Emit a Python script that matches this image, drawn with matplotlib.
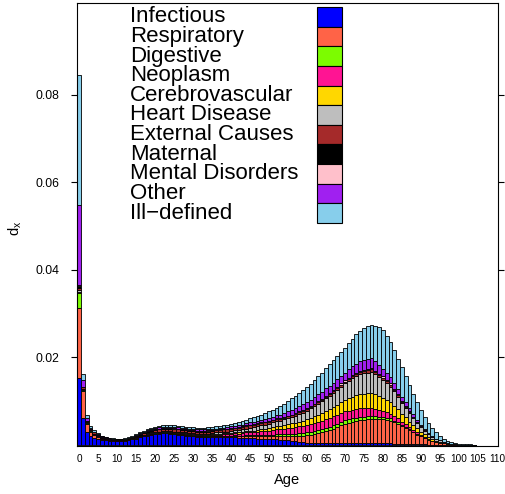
import numpy as np
import matplotlib
matplotlib.use("Agg")
import matplotlib.pyplot as plt
from matplotlib.patches import Rectangle

plt.rcParams['font.family'] = ['Liberation Sans', 'DejaVu Sans']
plt.rcParams['mathtext.default'] = 'regular'

# death distribution by age and cause, in units of 1e-4
ages = np.arange(0, 105)

infectious = [152, 60, 30, 20, 16, 13, 11, 10, 9, 9,
              8, 8, 9, 10, 12, 14, 17, 19, 21, 23,
              24, 25, 26, 26, 25, 24, 23, 22, 21, 20,
              19, 18, 18, 17, 17, 17, 17, 17, 17, 17,
              17, 17, 16, 16, 16, 15, 15, 14, 14, 13,
              13, 12, 12, 11, 11, 10, 9, 8, 7, 6,
              5, 4, 4, 3, 3, 3, 3, 3, 3, 3,
              3, 3, 3, 3, 3, 3, 3, 3, 3, 3,
              3, 3, 3, 2, 2, 2, 2, 2, 1, 1,
              1, 1, 0, 0, 0, 0, 0, 0, 0, 0,
              0, 0, 0, 0, 0]
respiratory = [160, 62, 18, 10, 6, 4, 3, 2, 2, 1,
               1, 1, 1, 1, 1, 1, 1, 1, 1, 1,
               1, 1, 1, 1, 1, 1, 1, 1, 1, 1,
               1, 1, 1, 1, 1, 2, 2, 2, 2, 2,
               2, 3, 3, 3, 4, 4, 4, 5, 5, 6,
               6, 7, 7, 8, 9, 10, 11, 12, 14, 15,
               17, 19, 21, 23, 25, 28, 31, 34, 37, 41,
               45, 47, 49, 51, 53, 54, 55, 55, 55, 55,
               55, 54, 52, 49, 45, 40, 36, 31, 27, 22,
               18, 14, 11, 8, 6, 4, 3, 2, 1, 1,
               0, 0, 0, 0, 0]
digestive = [34, 3, 1, 1, 1, 0, 0, 0, 0, 0,
             0, 0, 0, 0, 0, 0, 0, 1, 1, 1,
             1, 1, 1, 1, 1, 1, 1, 1, 1, 1,
             1, 1, 1, 1, 1, 1, 1, 1, 2, 2,
             2, 2, 2, 2, 3, 3, 3, 3, 4, 4,
             4, 4, 5, 5, 5, 5, 5, 5, 6, 6,
             6, 6, 7, 7, 7, 7, 7, 8, 8, 8,
             8, 8, 8, 8, 8, 7, 7, 7, 7, 6,
             6, 5, 5, 4, 4, 3, 3, 2, 2, 2,
             1, 1, 1, 0, 0, 0, 0, 0, 0, 0,
             0, 0, 0, 0, 0]
neoplasm = [2, 1, 1, 1, 1, 1, 1, 1, 1, 1,
            1, 1, 1, 1, 1, 1, 1, 1, 1, 1,
            1, 1, 1, 1, 1, 1, 2, 2, 2, 2,
            2, 2, 2, 2, 2, 3, 3, 3, 3, 3,
            4, 4, 4, 5, 5, 6, 6, 7, 8, 8,
            9, 10, 11, 11, 12, 13, 14, 15, 15, 16,
            17, 18, 18, 19, 20, 20, 20, 20, 20, 20,
            20, 20, 20, 19, 19, 19, 18, 18, 16, 15,
            13, 12, 11, 10, 9, 7, 6, 5, 4, 4,
            3, 2, 2, 1, 1, 1, 0, 0, 0, 0,
            0, 0, 0, 0, 0]
cerebro = [1, 0, 0, 0, 0, 0, 0, 0, 0, 0,
           0, 0, 0, 0, 0, 0, 0, 0, 0, 0,
           0, 0, 0, 0, 1, 1, 1, 1, 1, 1,
           1, 1, 1, 1, 1, 1, 2, 2, 2, 2,
           2, 2, 3, 3, 3, 4, 4, 5, 5, 6,
           6, 7, 7, 8, 8, 9, 10, 10, 11, 12,
           13, 14, 15, 17, 18, 20, 21, 22, 23, 25,
           26, 28, 30, 32, 33, 34, 35, 36, 34, 32,
           30, 28, 26, 24, 21, 18, 16, 13, 11, 9,
           7, 6, 4, 3, 2, 2, 1, 1, 0, 0,
           0, 0, 0, 0, 0]
heart = [5, 2, 1, 1, 1, 1, 1, 1, 0, 0,
         0, 0, 0, 1, 1, 1, 1, 1, 2, 2,
         2, 2, 2, 2, 2, 2, 2, 2, 2, 2,
         2, 2, 2, 3, 3, 3, 3, 3, 4, 4,
         4, 5, 5, 6, 6, 7, 8, 8, 9, 9,
         10, 11, 12, 12, 13, 14, 15, 16, 17, 18,
         20, 22, 23, 25, 26, 28, 30, 32, 34, 36,
         38, 40, 42, 44, 45, 46, 47, 48, 46, 44,
         42, 39, 36, 33, 29, 25, 22, 19, 15, 12,
         10, 8, 6, 5, 4, 3, 2, 1, 1, 0,
         0, 0, 0, 0, 0]
external = [4, 3, 3, 3, 3, 3, 2, 2, 2, 2,
            2, 2, 2, 2, 2, 3, 3, 4, 4, 4,
            4, 5, 5, 5, 5, 5, 5, 5, 5, 5,
            5, 5, 5, 5, 5, 5, 5, 5, 5, 5,
            5, 5, 5, 5, 5, 5, 5, 5, 5, 5,
            5, 5, 5, 4, 4, 4, 4, 4, 4, 4,
            4, 4, 4, 4, 4, 4, 4, 4, 4, 4,
            4, 4, 4, 4, 5, 5, 5, 5, 5, 4,
            4, 4, 4, 3, 3, 3, 2, 2, 2, 1,
            1, 1, 1, 0, 0, 0, 0, 0, 0, 0,
            0, 0, 0, 0, 0]
maternal = [6, 2, 1, 0, 0, 0, 0, 0, 0, 0,
            0, 0, 0, 0, 0, 1, 1, 1, 2, 2,
            2, 2, 2, 2, 2, 2, 2, 2, 2, 2,
            2, 2, 2, 2, 2, 1, 1, 1, 1, 1,
            1, 1, 1, 1, 1, 1, 1, 1, 0, 0,
            0, 0, 0, 0, 0, 0, 0, 0, 0, 0,
            0, 0, 0, 0, 0, 0, 0, 0, 0, 0,
            0, 0, 0, 0, 0, 0, 0, 0, 0, 0,
            0, 0, 0, 0, 0, 0, 0, 0, 0, 0,
            0, 0, 0, 0, 0, 0, 0, 0, 0, 0,
            0, 0, 0, 0, 0]
mental = [2, 0, 0, 0, 0, 0, 0, 0, 0, 0,
          0, 0, 0, 0, 0, 0, 0, 0, 0, 0,
          0, 0, 0, 0, 0, 1, 0, 0, 0, 0,
          1, 0, 0, 0, 1, 0, 0, 1, 0, 1,
          1, 0, 1, 1, 1, 1, 1, 1, 1, 1,
          1, 1, 1, 1, 1, 1, 1, 2, 2, 2,
          2, 2, 2, 2, 2, 2, 2, 2, 3, 3,
          3, 3, 3, 3, 3, 3, 3, 3, 3, 3,
          3, 3, 3, 2, 2, 2, 2, 2, 1, 1,
          1, 1, 0, 0, 0, 0, 0, 0, 0, 0,
          0, 0, 0, 0, 0]
other = [182, 14, 6, 3, 2, 2, 1, 1, 1, 1,
         1, 1, 1, 1, 1, 1, 2, 2, 2, 2,
         3, 3, 3, 3, 3, 3, 3, 3, 3, 3,
         3, 3, 3, 3, 3, 3, 3, 3, 3, 3,
         4, 4, 4, 4, 5, 5, 5, 6, 6, 7,
         7, 7, 8, 9, 9, 10, 11, 11, 12, 13,
         14, 14, 15, 16, 16, 17, 17, 17, 18, 18,
         18, 19, 20, 21, 22, 22, 23, 23, 22, 20,
         18, 16, 15, 14, 12, 10, 9, 8, 7, 5,
         4, 3, 2, 2, 1, 1, 1, 0, 0, 0,
         0, 0, 0, 0, 0]
ill_defined = [297, 15, 7, 4, 3, 2, 2, 1, 1, 1,
               1, 1, 1, 1, 2, 2, 2, 2, 2, 3,
               3, 3, 3, 3, 3, 3, 3, 3, 3, 3,
               3, 4, 4, 4, 4, 5, 5, 5, 6, 6,
               6, 7, 8, 8, 8, 9, 11, 11, 12, 13,
               15, 16, 16, 20, 22, 24, 26, 29, 30, 32,
               33, 36, 38, 40, 44, 46, 49, 51, 52, 54,
               57, 60, 63, 67, 69, 73, 75, 76, 81, 87,
               88, 85, 79, 75, 70, 67, 59, 52, 46, 40,
               34, 27, 23, 19, 14, 9, 7, 5, 4, 3,
               2, 1, 1, 0.5, 0.3]

causes = ["Infectious", "Respiratory", "Digestive", "Neoplasm", "Cerebrovascular",
          "Heart Disease", "External Causes", "Maternal", "Mental Disorders",
          "Other", "Ill\u2212defined"]
colors = ["#0000FF", "#FF6347", "#7CFC00", "#FF1493", "#FFD700", "#BEBEBE",
          "#A52A2A", "#000000", "#FFC0CB", "#A020F0", "#87CEEB"]
series = [infectious, respiratory, digestive, neoplasm, cerebro, heart,
          external, maternal, mental, other, ill_defined]

W, H = 505, 494
fig = plt.figure(figsize=(W / 100, H / 100), dpi=100)
L, R, T, B = 77, 498, 3, 446
ax = fig.add_axes([L / W, 1 - B / H, (R - L) / W, (B - T) / H])

bottom = np.zeros(len(ages))
for vals, col in zip(series, colors):
    v = np.array(vals, dtype=float) / 1e4
    ax.bar(ages, v, bottom=bottom, width=1.0, color=col,
           edgecolor="black", linewidth=0.6)
    bottom += v

ax.set_xlim(-0.55, 110.3)
ax.set_ylim(-0.0003, 0.1010)

ax.set_xticks(np.arange(0, 111, 5))
ax.set_xticklabels([str(a) for a in range(0, 111, 5)], fontsize=7.2)
ax.tick_params(axis="x", length=0, pad=6)
ax.set_yticks([0.02, 0.04, 0.06, 0.08])
ax.set_yticklabels(["0.02", "0.04", "0.06", "0.08"], fontsize=8.8)
ax.tick_params(axis="y", length=4, width=0.8, direction="out",
               right=True, pad=9)
for s in ax.spines.values():
    s.set_linewidth(0.8)

ax.set_xlabel("Age", fontsize=10.5, labelpad=6)
fig.text(15 / W, 1 - 228 / H, r"$d_x$", rotation=90, fontsize=10.5,
         ha="center", va="center")


# legend drawn by hand: text left, colour boxes at right
def px(x, y):
    return ((x - L) / (R - L), (B - y) / (B - T))


row_h = 19.6
y0 = 17
for i, (name, col) in enumerate(zip(causes, colors)):
    yc = y0 + i * row_h
    tx, ty = px(130, yc)
    ax.text(tx, ty, name, transform=ax.transAxes, fontsize=16,
            va="center", ha="left")
    bx, by = px(316.5, yc + row_h / 2)
    bw = 25 / (R - L)
    bh = row_h / (B - T)
    ax.add_patch(Rectangle((bx, by), bw, bh, transform=ax.transAxes,
                           facecolor=col, edgecolor="black", linewidth=0.8,
                           clip_on=False))

fig.savefig("out.png", dpi=100)
